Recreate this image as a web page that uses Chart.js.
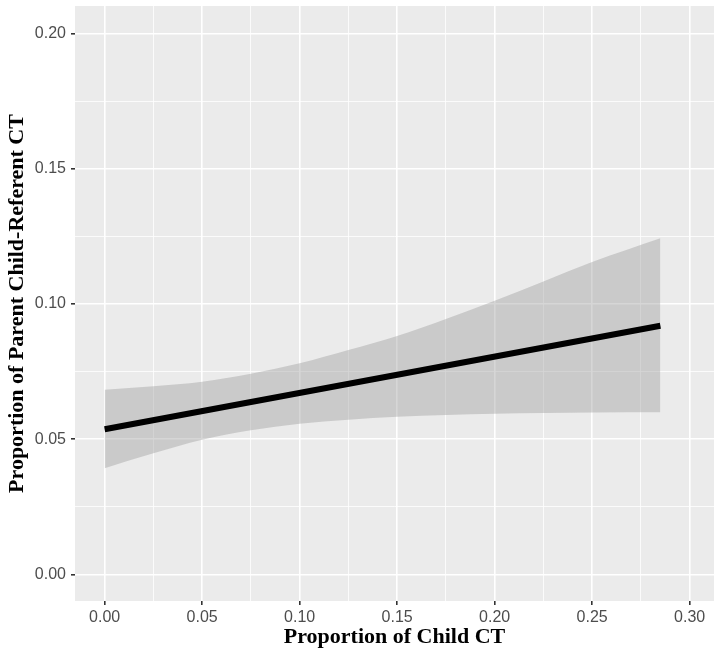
<!DOCTYPE html>
<html>
<head>
<meta charset="utf-8">
<script src="https://cdn.jsdelivr.net/npm/chart.js@4"></script>
<style>
  body { margin: 0; background: #fff; }
  #wrap { width: 714px; height: 650px; }
</style>
</head>
<body>
<div id="wrap"><canvas id="fit-chart" width="714" height="650"></canvas></div>
<script>
// fitted line (child CT proportion -> parent child-referent CT proportion)
var lineX = [0, 0.285];
var lineY = [0.0537, 0.092];

// confidence band
var bandX     = [0, 0.025, 0.05, 0.075, 0.10, 0.125, 0.15, 0.175, 0.20, 0.225, 0.25, 0.285];
var bandUpper = [0.0683, 0.0696, 0.0713, 0.0742, 0.0781, 0.0830, 0.0882, 0.0945, 0.1012, 0.1083, 0.1155, 0.1243];
var bandLower = [0.0393, 0.0448, 0.0498, 0.0533, 0.0557, 0.0572, 0.0583, 0.0590, 0.0594, 0.0597, 0.0599, 0.0600];

// grid positions (majors get labels)
var xTicks = [0, 0.025, 0.05, 0.075, 0.10, 0.125, 0.15, 0.175, 0.20, 0.225, 0.25, 0.275, 0.30];
var yTicks = [0, 0.025, 0.05, 0.075, 0.10, 0.125, 0.15, 0.175, 0.20];

function pts(xs, ys) {
  return xs.map(function (x, i) { return { x: x, y: ys[i] }; });
}
function isMajor(v) {
  return Math.round(v * 40) % 2 === 0;
}

var panelBg = {
  id: 'panelBg',
  beforeDraw: function (chart) {
    var a = chart.chartArea, ctx = chart.ctx;
    ctx.save();
    ctx.fillStyle = '#EBEBEB';
    ctx.fillRect(a.left, a.top, a.right - a.left, a.bottom - a.top);
    ctx.restore();
  }
};

var gridOpts = {
  color: '#FFFFFF',
  lineWidth: function (c) { return c.tick && isMajor(c.tick.value) ? 1.6 : 0.8; },
  drawTicks: true,
  tickLength: 4,
  tickColor: function (c) { return c.tick && isMajor(c.tick.value) ? '#333333' : 'rgba(0,0,0,0)'; },
  tickWidth: 1.6
};
var tickFont = { family: 'Liberation Sans', size: 16 };
var titleFont = { family: 'Liberation Serif', size: 22, weight: 'bold', lineHeight: 1 };

var ctx = document.getElementById('fit-chart').getContext('2d');
var fitChart = new Chart(ctx, {
  type: 'scatter',
  data: {
    datasets: [
      {
        label: 'lower',
        data: pts(bandX, bandLower),
        showLine: true,
        borderWidth: 0,
        borderColor: 'rgba(0,0,0,0)',
        pointRadius: 0,
        cubicInterpolationMode: 'monotone',
        fill: false,
        order: 2
      },
      {
        label: 'upper',
        data: pts(bandX, bandUpper),
        showLine: true,
        borderWidth: 0,
        borderColor: 'rgba(0,0,0,0)',
        backgroundColor: 'rgba(153,153,153,0.4)',
        pointRadius: 0,
        cubicInterpolationMode: 'monotone',
        fill: '-1',
        order: 1
      },
      {
        label: 'fit',
        data: pts(lineX, lineY),
        showLine: true,
        borderColor: '#000000',
        borderWidth: 6,
        pointRadius: 0,
        fill: false,
        order: 0
      }
    ]
  },
  options: {
    responsive: false,
    animation: false,
    events: [],
    layout: { padding: { top: 6, right: 0, left: 0, bottom: 0 } },
    plugins: {
      legend: { display: false },
      tooltip: { enabled: false }
    },
    scales: {
      x: {
        type: 'linear',
        min: -0.0152,
        max: 0.3125,
        afterBuildTicks: function (s) { s.ticks = xTicks.map(function (v) { return { value: v }; }); },
        afterFit: function (s) { s.height = 49; s.paddingLeft = 0; s.paddingRight = 0; },
        border: { display: false },
        grid: gridOpts,
        ticks: {
          autoSkip: false,
          maxRotation: 0,
          padding: 3,
          color: '#4D4D4D',
          font: tickFont,
          callback: function (v) { return isMajor(v) ? v.toFixed(2) : ''; }
        },
        title: {
          display: true,
          text: 'Proportion of Child CT',
          color: '#000000',
          font: titleFont,
          padding: { top: 0, bottom: 2 }
        }
      },
      y: {
        type: 'linear',
        min: -0.0098,
        max: 0.2102,
        afterBuildTicks: function (s) { s.ticks = yTicks.map(function (v) { return { value: v }; }); },
        afterFit: function (s) { s.width = 75; s.paddingTop = 0; s.paddingBottom = 0; },
        border: { display: false },
        grid: gridOpts,
        ticks: {
          autoSkip: false,
          padding: 5,
          color: '#4D4D4D',
          font: tickFont,
          callback: function (v) { return isMajor(v) ? v.toFixed(2) : ''; }
        },
        title: {
          display: true,
          text: 'Proportion of Parent Child-Referent CT',
          color: '#000000',
          font: titleFont,
          padding: { top: 6, bottom: 0 }
        }
      }
    }
  },
  plugins: [panelBg]
});
</script>
</body>
</html>
